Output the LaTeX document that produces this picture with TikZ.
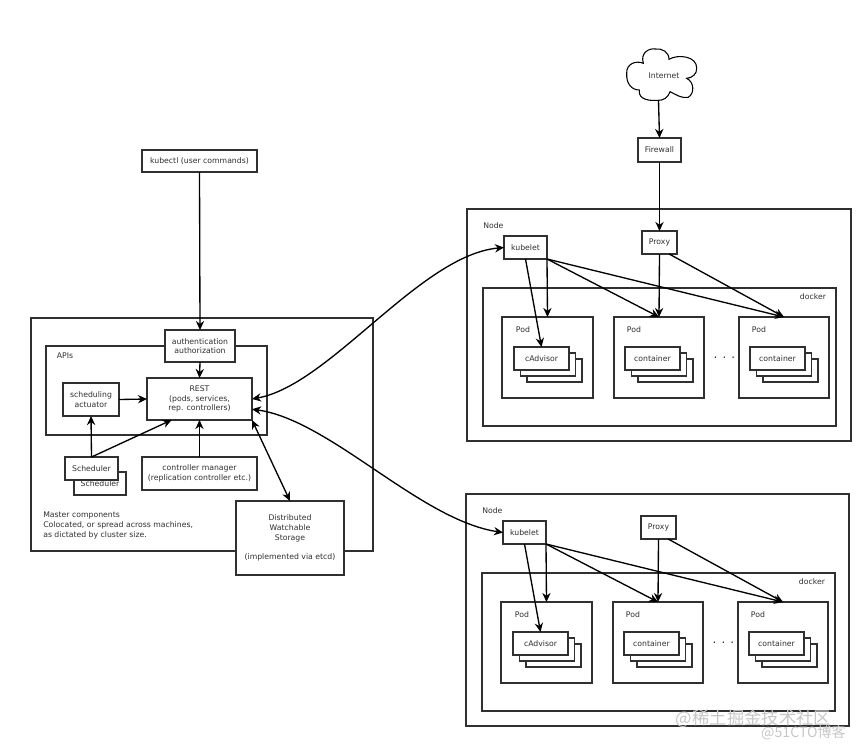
\documentclass[tikz,border=0pt]{standalone}
\usepackage{fontspec}
\usepackage{xcolor}
\usepackage{tikz}
\usetikzlibrary{arrows.meta,positioning,calc}
\setmainfont{DejaVu Sans}
\newfontfamily\cjkmark{Noto Sans CJK SC}
\definecolor{inkgrey}{RGB}{48,48,48}
\tikzset{
	boxsize/.style 2 args={minimum width=#1*0.75pt,minimum height=#2*0.75pt},
	boxnode/.style={draw=inkgrey,fill=white,line width=0.85pt,inner sep=0pt,outer sep=0pt,align=center,text=inkgrey,font=\fontsize{5.8}{7.3}\selectfont},
	labelnode/.style={inner sep=0pt,align=left,text=inkgrey,font=\fontsize{5.8}{7.3}\selectfont},
	arrowline/.style={draw=black,line width=1pt,-{Stealth[length=6.8pt,width=6.2pt]}},
	botharrow/.style={draw=black,line width=1pt,{Stealth[length=6.8pt,width=6.2pt]}-{Stealth[length=6.8pt,width=6.2pt]}},
	markone/.style={inner sep=0pt,text=black!22,font=\fontsize{13}{13}\cjkmark},
	marktwo/.style={inner sep=0pt,text=black!22,font=\fontsize{10.6}{11}\cjkmark}
}

\begin{document}
\begin{tikzpicture}[x=0.75pt,y=0.75pt,yscale=-1,xscale=1]
	\useasboundingbox (0,0) rectangle (856,750);

	%Shape: Rectangle master
	\node [boxnode,boxsize={342}{233}] (master) at (202,434.5) {};
	%Shape: Rectangle apis
	\node [boxnode,boxsize={221}{89}] (apis) at (156.5,390.5) {};
	% Text Node
	\node [labelnode] (apislabel) at (65,356) {APIs};
	% Text Node
	\node [labelnode,anchor=west] (masterlabel) at (43,525.5) {Master components\\Colocated, or spread across machines,\\as dictated by cluster size.};

	%Shape: Rectangle kubectl
	\node [boxnode,boxsize={115}{22}] (kubectl) at (199.5,161) {kubectl (user commands)};
	\node [boxnode,boxsize={70}{32}] (auth) at (200,346) {authentication\\authorization};
	\node [boxnode,boxsize={105}{42}] (rest) at (199.5,399) {REST\\(pods, services,\\rep. controllers)};
	\node [boxnode,boxsize={56}{33}] (actuator) at (91,399.5) {scheduling\\actuator};
	\node [boxnode,boxsize={52}{23}] (schedback) at (100,483.5) {Scheduler};
	\node [boxnode,boxsize={53}{23}] (schedfront) at (91.5,468.5) {Scheduler};
	\node [boxnode,boxsize={115}{33}] (ctrlmgr) at (199.5,473.5) {controller manager\\(replication controller etc.)};
	\node [boxnode,boxsize={108}{74}] (storage) at (290,538) {Distributed\\Watchable\\Storage\\\\(implemented via etcd)};

	%Shape: Cloud
	\draw [draw=black,fill=white,line width=0.8pt] (626.7,73.3) .. controls (626,64) and (636,60) .. (643.3,63.3) .. controls (640,52) and (650,48) .. (655,49) .. controls (662,48) and (669,52) .. (669,59.3) .. controls (678,54) and (697,56) .. (696.7,68.3) .. controls (697,74) and (692,78) .. (686.7,78.3) .. controls (694,82) and (695,93) .. (688.3,97.3) .. controls (682,99) and (675,94) .. (670,91.7) .. controls (668,98) and (663,100.5) .. (658.3,100.3) .. controls (650,101) and (638,100) .. (639.3,90) .. controls (632,90) and (626,84) .. (626.7,73.3) -- cycle ;
	% Text Node
	\node [labelnode] (internet) at (664,76) {Internet};
	\coordinate (cloudfoot) at (658.5,100.3);
	\node [boxnode,boxsize={43}{24}] (firewall) at (659.5,150) {Firewall};

	%Shape: Rectangle node one
	\node [boxnode,boxsize={384}{232}] (nodea) at (659,325) {};
	\node [labelnode,anchor=west] (nodealabel) at (483,226) {Node};
	\node [boxnode,boxsize={353}{138}] (dockera) at (659.5,357) {};
	\node [labelnode] (dockeralabel) at (813,297) {docker};
	\node [boxnode,boxsize={43}{23}] (kubeleta) at (525.5,247.5) {kubelet};
	\node [boxnode,boxsize={35}{23}] (proxya) at (659.5,242.5) {Proxy};
	\node [boxnode,boxsize={91}{81}] (podaa) at (547.5,357.5) {};
	\node [boxnode,boxsize={90}{81}] (podab) at (659,357.5) {};
	\node [boxnode,boxsize={90}{81}] (podac) at (784,357.5) {};
	\node [labelnode] (podaalabel) at (523,330) {Pod};
	\node [labelnode] (podablabel) at (634,330) {Pod};
	\node [labelnode] (podaclabel) at (759,330) {Pod};
	%Shape: Rectangle stacks
	\node [boxnode,boxsize={55}{23}] (advaz) at (554.5,370.5) {};
	\node [boxnode,boxsize={55}{23}] (advay) at (548,364.5) {};
	\node [boxnode,boxsize={55}{23}] (advax) at (541.5,358.5) {cAdvisor};
	\node [boxnode,boxsize={55}{23}] (conaz) at (665.5,370.5) {};
	\node [boxnode,boxsize={55}{23}] (conay) at (659,364.5) {};
	\node [boxnode,boxsize={55}{23}] (conax) at (652.5,358.5) {container};
	\node [boxnode,boxsize={55}{23}] (conbz) at (790.5,370.5) {};
	\node [boxnode,boxsize={55}{23}] (conby) at (784,364.5) {};
	\node [boxnode,boxsize={55}{23}] (conbx) at (777.5,358.5) {container};
	% Text Node
	\node [labelnode,font=\fontsize{9}{9}\selectfont] (dotsa) at (724.5,358) {. . .};

	%Shape: Rectangle node two
	\node [boxnode,boxsize={383}{232}] (nodeb) at (657.5,610) {};
	\node [labelnode,anchor=west] (nodeblabel) at (482,511) {Node};
	\node [boxnode,boxsize={353}{138}] (dockerb) at (658.5,642) {};
	\node [labelnode] (dockerblabel) at (812,582) {docker};
	\node [boxnode,boxsize={43}{23}] (kubeletb) at (524.5,532.5) {kubelet};
	\node [boxnode,boxsize={35}{23}] (proxyb) at (658.5,527.5) {Proxy};
	\node [boxnode,boxsize={91}{81}] (podba) at (546.5,642.5) {};
	\node [boxnode,boxsize={90}{81}] (podbb) at (658,642.5) {};
	\node [boxnode,boxsize={90}{81}] (podbc) at (783,642.5) {};
	\node [labelnode] (podbalabel) at (522,615) {Pod};
	\node [labelnode] (podbblabel) at (633,615) {Pod};
	\node [labelnode] (podbclabel) at (758,615) {Pod};
	%Shape: Rectangle stacks
	\node [boxnode,boxsize={55}{23}] (advbz) at (553.5,655.5) {};
	\node [boxnode,boxsize={55}{23}] (advby) at (547,649.5) {};
	\node [boxnode,boxsize={55}{23}] (advbx) at (540.5,643.5) {cAdvisor};
	\node [boxnode,boxsize={55}{23}] (concz) at (664.5,655.5) {};
	\node [boxnode,boxsize={55}{23}] (concy) at (658,649.5) {};
	\node [boxnode,boxsize={55}{23}] (concx) at (651.5,643.5) {container};
	\node [boxnode,boxsize={55}{23}] (condz) at (789.5,655.5) {};
	\node [boxnode,boxsize={55}{23}] (condy) at (783,649.5) {};
	\node [boxnode,boxsize={55}{23}] (condx) at (776.5,643.5) {container};
	% Text Node
	\node [labelnode,font=\fontsize{9}{9}\selectfont] (dotsb) at (723.5,643) {. . .};

	%Straight Lines master
	\draw [arrowline] (kubectl.south) -- (auth.north);
	\draw [arrowline] (auth.south) -- (rest.north);
	\draw [arrowline] (actuator.east) -- (rest.west);
	\draw [arrowline] (schedfront.north) -- (actuator.south);
	\draw [arrowline] (schedfront.north) -- (rest.217);
	\draw [arrowline] (ctrlmgr.north) -- (rest.south);
	\draw [botharrow] (rest.south east) -- (storage.north);

	%Curve Lines
	\draw [botharrow] (rest.east) .. controls (330,385) and (420,255) .. (kubeleta.west);
	\draw [botharrow] (rest.-11) .. controls (330,420) and (420,520) .. (kubeletb.west);

	%Straight Lines internet
	\draw [arrowline] (cloudfoot) -- (firewall.north);
	\draw [arrowline] (firewall.south) -- (proxya.north);

	%Straight Lines node one
	\draw [arrowline] (kubeleta.south) -- (advax.north);
	\draw [arrowline] (kubeleta.south east) -- (podaa.north);
	\draw [arrowline] (kubeleta.south east) -- (podab.north);
	\draw [arrowline] (kubeleta.south east) -- (podac.north);
	\draw [arrowline] (proxya.south) -- (podab.north);
	\draw [arrowline] (proxya.-50) -- (podac.north);

	%Straight Lines node two
	\draw [arrowline] (kubeletb.south) -- (advbx.north);
	\draw [arrowline] (kubeletb.south east) -- (podba.north);
	\draw [arrowline] (kubeletb.south east) -- (podbb.north);
	\draw [arrowline] (kubeletb.south east) -- (podbc.north);
	\draw [arrowline] (proxyb.south) -- (podbb.north);
	\draw [arrowline] (proxyb.-50) -- (podbc.north);

	% Text Node
	\node [markone] (markcn) at (753.5,719) {@稀土掘金技术社区};
	% Text Node
	\node [marktwo] (markcto) at (803.5,733) {@51CTO博客};
\end{tikzpicture}
\end{document}
